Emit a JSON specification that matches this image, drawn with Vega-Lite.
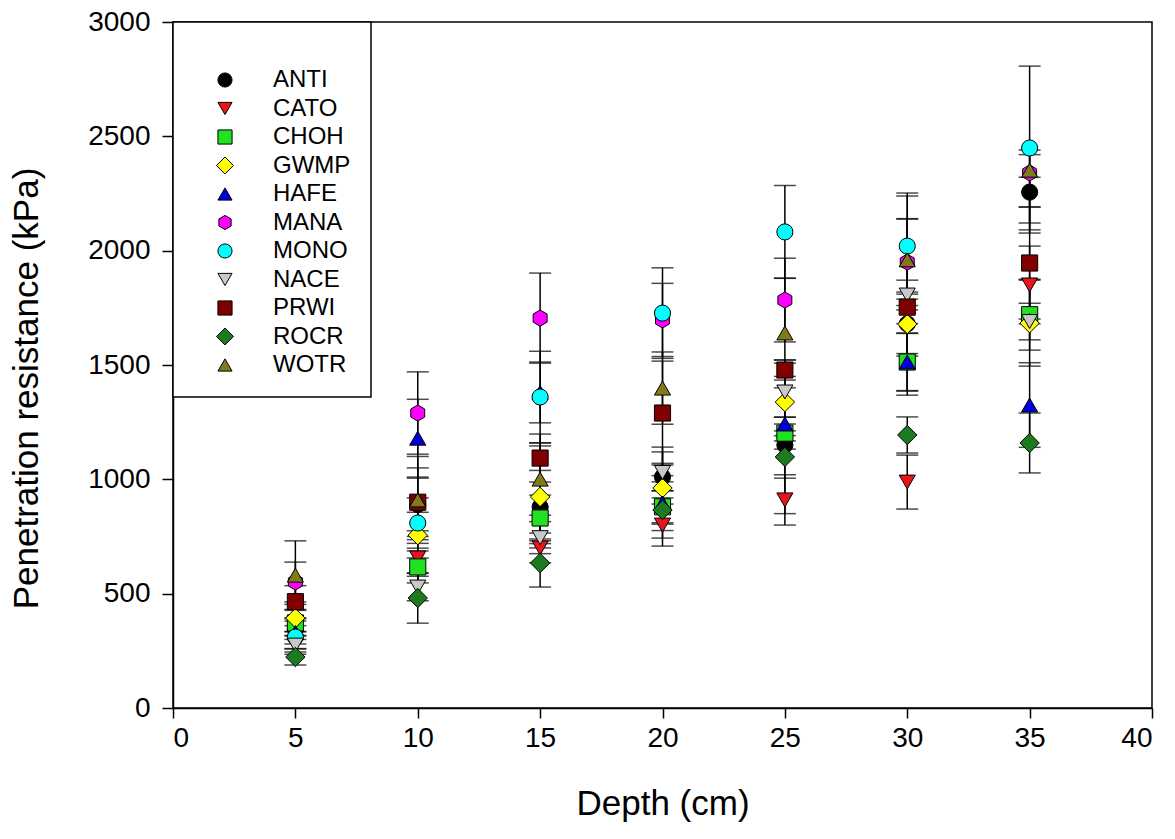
{
  "$schema": "https://vega.github.io/schema/vega-lite/v6.json",
  "autosize": "none",
  "width": 979,
  "height": 686,
  "padding": {"left": 173, "top": 22, "right": 23, "bottom": 131},
  "background": "white",
  "data": {
    "values": [
      {"site": "ANTI", "depth": 5, "mean": 345, "lo": 300, "hi": 390},
      {"site": "ANTI", "depth": 10, "mean": 890, "lo": 775, "hi": 1005},
      {"site": "ANTI", "depth": 15, "mean": 879, "lo": 719, "hi": 1039},
      {"site": "ANTI", "depth": 20, "mean": 1010, "lo": 950, "hi": 1070},
      {"site": "ANTI", "depth": 25, "mean": 1150, "lo": 850, "hi": 1450},
      {"site": "ANTI", "depth": 30, "mean": 1680, "lo": 1550, "hi": 1810},
      {"site": "ANTI", "depth": 35, "mean": 2256, "lo": 2191, "hi": 2321},
      {"site": "CATO", "depth": 5, "mean": 290, "lo": 245, "hi": 335},
      {"site": "CATO", "depth": 10, "mean": 656, "lo": 576, "hi": 736},
      {"site": "CATO", "depth": 15, "mean": 700, "lo": 635, "hi": 765},
      {"site": "CATO", "depth": 20, "mean": 800, "lo": 708, "hi": 892},
      {"site": "CATO", "depth": 25, "mean": 910, "lo": 800, "hi": 1020},
      {"site": "CATO", "depth": 30, "mean": 988, "lo": 870, "hi": 1106},
      {"site": "CATO", "depth": 35, "mean": 1850, "lo": 1680, "hi": 2020},
      {"site": "CHOH", "depth": 5, "mean": 372, "lo": 317, "hi": 427},
      {"site": "CHOH", "depth": 10, "mean": 617, "lo": 547, "hi": 687},
      {"site": "CHOH", "depth": 15, "mean": 831, "lo": 731, "hi": 931},
      {"site": "CHOH", "depth": 20, "mean": 880, "lo": 810, "hi": 950},
      {"site": "CHOH", "depth": 25, "mean": 1202, "lo": 1132, "hi": 1272},
      {"site": "CHOH", "depth": 30, "mean": 1513, "lo": 1386, "hi": 1640},
      {"site": "CHOH", "depth": 35, "mean": 1720, "lo": 1565, "hi": 1875},
      {"site": "GWMP", "depth": 5, "mean": 393, "lo": 333, "hi": 453},
      {"site": "GWMP", "depth": 10, "mean": 756, "lo": 656, "hi": 856},
      {"site": "GWMP", "depth": 15, "mean": 923, "lo": 700, "hi": 1146},
      {"site": "GWMP", "depth": 20, "mean": 962, "lo": 804, "hi": 1120},
      {"site": "GWMP", "depth": 25, "mean": 1338, "lo": 1168, "hi": 1508},
      {"site": "GWMP", "depth": 30, "mean": 1679, "lo": 1539, "hi": 1819},
      {"site": "GWMP", "depth": 35, "mean": 1683, "lo": 1495, "hi": 1871},
      {"site": "HAFE", "depth": 5, "mean": 330, "lo": 280, "hi": 380},
      {"site": "HAFE", "depth": 10, "mean": 1180, "lo": 1010, "hi": 1350},
      {"site": "HAFE", "depth": 15, "mean": 1380, "lo": 1247, "hi": 1513},
      {"site": "HAFE", "depth": 20, "mean": 896, "lo": 776, "hi": 1016},
      {"site": "HAFE", "depth": 25, "mean": 1242, "lo": 1212, "hi": 1272},
      {"site": "HAFE", "depth": 30, "mean": 1513, "lo": 1388, "hi": 1638},
      {"site": "HAFE", "depth": 35, "mean": 1325, "lo": 1140, "hi": 1510},
      {"site": "MANA", "depth": 5, "mean": 551, "lo": 464, "hi": 638},
      {"site": "MANA", "depth": 10, "mean": 1290, "lo": 1110, "hi": 1470},
      {"site": "MANA", "depth": 15, "mean": 1705, "lo": 1508, "hi": 1902},
      {"site": "MANA", "depth": 20, "mean": 1697, "lo": 1537, "hi": 1857},
      {"site": "MANA", "depth": 25, "mean": 1784, "lo": 1601, "hi": 1967},
      {"site": "MANA", "depth": 30, "mean": 1950, "lo": 1760, "hi": 2140},
      {"site": "MANA", "depth": 35, "mean": 2340, "lo": 2077, "hi": 2420},
      {"site": "MONO", "depth": 5, "mean": 310, "lo": 260, "hi": 360},
      {"site": "MONO", "depth": 10, "mean": 809, "lo": 699, "hi": 919},
      {"site": "MONO", "depth": 15, "mean": 1360, "lo": 1160, "hi": 1560},
      {"site": "MONO", "depth": 20, "mean": 1727, "lo": 1529, "hi": 1925},
      {"site": "MONO", "depth": 25, "mean": 2082, "lo": 1879, "hi": 2285},
      {"site": "MONO", "depth": 30, "mean": 2020, "lo": 1788, "hi": 2252},
      {"site": "MONO", "depth": 35, "mean": 2449, "lo": 2091, "hi": 2807},
      {"site": "NACE", "depth": 5, "mean": 275, "lo": 235, "hi": 315},
      {"site": "NACE", "depth": 10, "mean": 529, "lo": 469, "hi": 589},
      {"site": "NACE", "depth": 15, "mean": 745, "lo": 675, "hi": 815},
      {"site": "NACE", "depth": 20, "mean": 1030, "lo": 919, "hi": 1141},
      {"site": "NACE", "depth": 25, "mean": 1382, "lo": 1242, "hi": 1522},
      {"site": "NACE", "depth": 30, "mean": 1806, "lo": 1741, "hi": 1871},
      {"site": "NACE", "depth": 35, "mean": 1690, "lo": 1610, "hi": 1770},
      {"site": "PRWI", "depth": 5, "mean": 465, "lo": 395, "hi": 535},
      {"site": "PRWI", "depth": 10, "mean": 900, "lo": 750, "hi": 1050},
      {"site": "PRWI", "depth": 15, "mean": 1093, "lo": 988, "hi": 1198},
      {"site": "PRWI", "depth": 20, "mean": 1290, "lo": 1063, "hi": 1517},
      {"site": "PRWI", "depth": 25, "mean": 1478, "lo": 1434, "hi": 1522},
      {"site": "PRWI", "depth": 30, "mean": 1753, "lo": 1368, "hi": 2138},
      {"site": "PRWI", "depth": 35, "mean": 1946, "lo": 1701, "hi": 2191},
      {"site": "ROCR", "depth": 5, "mean": 223, "lo": 188, "hi": 258},
      {"site": "ROCR", "depth": 10, "mean": 481, "lo": 371, "hi": 591},
      {"site": "ROCR", "depth": 15, "mean": 634, "lo": 529, "hi": 739},
      {"site": "ROCR", "depth": 20, "mean": 866, "lo": 743, "hi": 989},
      {"site": "ROCR", "depth": 25, "mean": 1098, "lo": 1005, "hi": 1191},
      {"site": "ROCR", "depth": 30, "mean": 1194, "lo": 1115, "hi": 1273},
      {"site": "ROCR", "depth": 35, "mean": 1159, "lo": 1028, "hi": 1290},
      {"site": "WOTR", "depth": 5, "mean": 581, "lo": 431, "hi": 731},
      {"site": "WOTR", "depth": 10, "mean": 910, "lo": 720, "hi": 1100},
      {"site": "WOTR", "depth": 15, "mean": 1001, "lo": 843, "hi": 1159},
      {"site": "WOTR", "depth": 20, "mean": 1399, "lo": 1241, "hi": 1557},
      {"site": "WOTR", "depth": 25, "mean": 1640, "lo": 1400, "hi": 1880},
      {"site": "WOTR", "depth": 30, "mean": 1960, "lo": 1681, "hi": 2239},
      {"site": "WOTR", "depth": 35, "mean": 2352, "lo": 2121, "hi": 2440}
    ]
  },
  "encoding": {
    "x": {
      "field": "depth", "type": "quantitative",
      "scale": {"domain": [0, 40], "nice": false, "zero": false},
      "axis": {"title": "Depth (cm)", "values": [0, 5, 10, 15, 20, 25, 30, 35, 40], "tickSize": 10, "labelPadding": 6, "titlePadding": 34, "titleFontSize": 35}
    }
  },
  "layer": [
    {
      "mark": {"type": "rule", "color": "black", "strokeWidth": 1.5},
      "encoding": {
        "y": {"field": "lo", "type": "quantitative", "scale": {"domain": [0, 3000], "nice": false}, "axis": {"title": "Penetration resistance (kPa)", "values": [0, 500, 1000, 1500, 2000, 2500, 3000], "format": "d", "tickSize": 11, "labelPadding": 12, "titlePadding": 43, "titleY": 366, "titleFontSize": 35}},
        "y2": {"field": "hi"}
      }
    },
    {
      "mark": {"type": "tick", "orient": "horizontal", "color": "black", "size": 22, "thickness": 1.5},
      "encoding": {"y": {"field": "lo", "type": "quantitative"}}
    },
    {
      "mark": {"type": "tick", "orient": "horizontal", "color": "black", "size": 22, "thickness": 1.5},
      "encoding": {"y": {"field": "hi", "type": "quantitative"}}
    },
    {
      "mark": {"type": "point", "filled": true, "opacity": 1, "size": 260, "stroke": "black", "strokeWidth": 1},
      "encoding": {
        "y": {"field": "mean", "type": "quantitative"},
        "color": {
          "field": "site", "type": "nominal",
          "scale": {
            "domain": ["ANTI", "CATO", "CHOH", "GWMP", "HAFE", "MANA", "MONO", "NACE", "PRWI", "ROCR", "WOTR"],
            "range": ["#000000", "#E8161B", "#22E022", "#FFFF00", "#0000DD", "#FF00FF", "#00FFFF", "#C8C8C8", "#800000", "#1E7A1E", "#807A1A"]
          },
          "legend": {"title": " "}
        },
        "shape": {
          "field": "site", "type": "nominal",
          "scale": {
            "domain": ["ANTI", "CATO", "CHOH", "GWMP", "HAFE", "MANA", "MONO", "NACE", "PRWI", "ROCR", "WOTR"],
            "range": ["circle", "triangle-down", "square", "M0,-1.2L1.2,0L0,1.2L-1.2,0Z", "triangle-up", "M0,-1L0.866,-0.5L0.866,0.5L0,1L-0.866,0.5L-0.866,-0.5Z", "circle", "triangle-down", "square", "M0,-1.2L1.2,0L0,1.2L-1.2,0Z", "triangle-up"]
          },
          "legend": {"title": " "}
        }
      }
    }
  ],
  "config": {
    "view": {"stroke": "black", "strokeWidth": 1.5},
    "axis": {
      "grid": false,
      "domainColor": "black", "domainWidth": 1.5,
      "tickColor": "black", "tickWidth": 1.5,
      "labelColor": "black", "labelFont": "Liberation Sans", "labelFontSize": 28,
      "titleColor": "black", "titleFont": "Liberation Sans", "titleFontSize": 34, "titleFontWeight": "normal"
    },
    "legend": {
      "orient": "top-left", "offset": 0,
      "strokeColor": "black", "strokeWidth": 1.5, "fillColor": "white",
      "padding": 20,
      "titleFontSize": 14, "titlePadding": 12,
      "labelFont": "Liberation Sans", "labelFontSize": 24, "labelColor": "black",
      "labelOffset": 36,
      "symbolSize": 200, "symbolStrokeColor": "black", "symbolStrokeWidth": 1,
      "symbolOffset": 20,
      "rowPadding": 4.5
    }
  }
}
